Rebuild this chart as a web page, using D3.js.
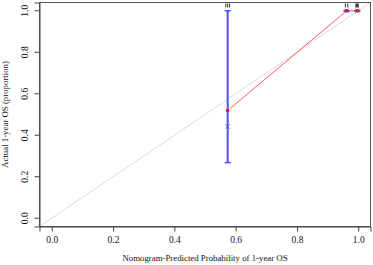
<!DOCTYPE html>
<html>
<head>
<meta charset="utf-8">
<script src="https://cdn.jsdelivr.net/npm/d3@7"></script>
<style>
  body { margin: 0; background: #fff; }
  text { font-family: "Liberation Serif", "DejaVu Serif", serif; fill: #111; }
</style>
</head>
<body>
<div id="container"></div>
<script>
/* DATA */
const predicted = [0.574, 0.962, 0.997];
const observed = [0.519, 1.0, 1.0];
const corrected = [0.442, 1.0, 1.0];
const ciLow = [0.268, 1.0, 1.0];
const ciHigh = [1.0, 1.0, 1.0];
const rugValues = [0.568, 0.574, 0.580, 0.958, 0.966, 0.992, 0.995, 0.998, 1.0];
const tickValues = [0, 0.2, 0.4, 0.6, 0.8, 1.0];

/* CONSTANTS */
const width = 373, height = 265;
const box = { left: 39.5, right: 370.5, top: 2.5, bottom: 226.5 };

const svg = d3.select("#container")
  .append("svg")
  .attr("width", width)
  .attr("height", height);

const x = d3.scaleLinear().domain([-0.04, 1.04]).range([box.left, box.right]);
const y = d3.scaleLinear().domain([-0.04, 1.04]).range([box.bottom, box.top]);

svg.append("clipPath").attr("id", "plotclip")
  .append("rect")
  .attr("x", box.left).attr("y", box.top)
  .attr("width", box.right - box.left).attr("height", box.bottom - box.top);

// ideal line
svg.append("line")
  .attr("clip-path", "url(#plotclip)")
  .attr("x1", x(-0.04)).attr("y1", y(-0.04))
  .attr("x2", x(1.04)).attr("y2", y(1.04))
  .attr("stroke", "#d9d9d9")
  .attr("stroke-width", 1);

// error bars
const bars = svg.selectAll("g.bar")
  .data(predicted.map((p, i) => ({ p, lo: ciLow[i], hi: ciHigh[i] })))
  .join("g")
  .attr("class", "bar");

bars.append("line")
  .attr("x1", d => x(d.p)).attr("x2", d => x(d.p))
  .attr("y1", d => y(d.lo)).attr("y2", d => y(d.hi))
  .attr("stroke", "#4d4dff").attr("stroke-width", 2);

bars.selectAll("line.cap")
  .data(d => [{ p: d.p, v: d.lo }, { p: d.p, v: d.hi }])
  .join("line")
  .attr("class", "cap")
  .attr("x1", d => x(d.p) - 3).attr("x2", d => x(d.p) + 3)
  .attr("y1", d => y(d.v)).attr("y2", d => y(d.v))
  .attr("stroke", "#4d4dff").attr("stroke-width", 1.5);

// observed line (with small gaps round the points, like type "b")
const obsPts = predicted.map((p, i) => [x(p), y(observed[i])]);
const segs = d3.pairs(obsPts).map(([a, b]) => {
  const dx = b[0] - a[0], dy = b[1] - a[1], len = Math.hypot(dx, dy), g = 3;
  return [[a[0] + dx / len * g, a[1] + dy / len * g], [b[0] - dx / len * g, b[1] - dy / len * g]];
});
svg.selectAll("path.obsline")
  .data(segs)
  .join("path")
  .attr("class", "obsline")
  .attr("d", d3.line())
  .attr("fill", "none")
  .attr("stroke", "#ff5a5a")
  .attr("stroke-width", 1);

// bias-corrected crosses
svg.selectAll("path.cross")
  .data(predicted.map((p, i) => [p, corrected[i]]))
  .join("path")
  .attr("class", "cross")
  .attr("d", d3.symbol(d3.symbolX, 14))
  .attr("transform", d => `translate(${x(d[0])},${y(d[1])})`)
  .attr("stroke", "#5a5aff")
  .attr("stroke-width", 1);

// observed points
svg.selectAll("circle.obs")
  .data(predicted.map((p, i) => [p, observed[i]]))
  .join("circle")
  .attr("class", "obs")
  .attr("cx", d => x(d[0])).attr("cy", d => y(d[1]))
  .attr("r", 1.8)
  .attr("fill", "#e0102a");

// rug at top
svg.selectAll("line.rug")
  .data(rugValues)
  .join("line")
  .attr("class", "rug")
  .attr("x1", d => x(d)).attr("x2", d => x(d))
  .attr("y1", box.top + 1).attr("y2", box.top + 5)
  .attr("stroke", "#222").attr("stroke-width", 0.9);

// box
svg.append("rect")
  .attr("x", box.left).attr("y", box.top)
  .attr("width", box.right - box.left).attr("height", box.bottom - box.top)
  .attr("fill", "none")
  .attr("stroke", "#555")
  .attr("stroke-width", 1);

// axes
const xAxis = svg.append("g")
  .attr("transform", `translate(0,${box.bottom})`)
  .call(d3.axisBottom(x).tickValues(tickValues).tickFormat(d3.format(".1f")).tickSize(5).tickPadding(5));
xAxis.selectAll("line, path").attr("stroke", "#444");
xAxis.selectAll("text").attr("font-size", 9.5).attr("font-family", "Liberation Serif").attr("fill", "#111");

const yAxis = svg.append("g")
  .attr("transform", `translate(${box.left},0)`)
  .call(d3.axisLeft(y).tickValues(tickValues).tickFormat(d3.format(".1f")).tickSize(5).tickPadding(0));
yAxis.selectAll("line, path").attr("stroke", "#444");
yAxis.selectAll("text")
  .attr("font-size", 9.5).attr("font-family", "Liberation Serif").attr("fill", "#111")
  .attr("text-anchor", "middle")
  .attr("x", 0).attr("dy", 0)
  .attr("transform", d => `translate(-12,${y(d)}) rotate(-90)`);
yAxis.selectAll(".tick").attr("transform", "translate(0,0)");
yAxis.selectAll(".tick line").attr("y1", d => y(d)).attr("y2", d => y(d));

// axis titles
svg.append("text")
  .attr("x", 205)
  .attr("y", 261)
  .attr("text-anchor", "middle")
  .attr("font-size", 8.8)
  .text("Nomogram-Predicted Probability of 1-year OS");

svg.append("text")
  .attr("transform", `translate(8,${(box.top + box.bottom) / 2}) rotate(-90)`)
  .attr("text-anchor", "middle")
  .attr("font-size", 8.8)
  .text("Actual 1-year OS (proportion)");
</script>
</body>
</html>
